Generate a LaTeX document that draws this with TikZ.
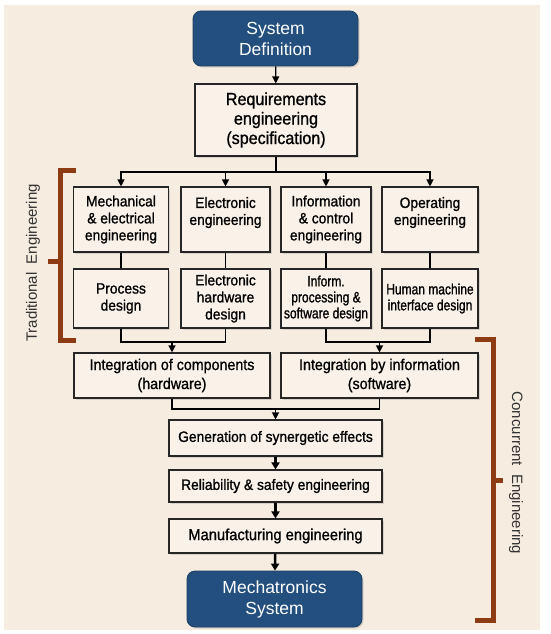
\documentclass[tikz,border=0pt]{standalone}
\usepackage{fontspec}
\setmainfont{Liberation Sans}
\newfontfamily\boxfont[FakeStretch=0.92, FakeBold=1]{Liberation Sans}
\newfontfamily\narrowfont[FakeStretch=0.8, FakeBold=1]{Liberation Sans}
\usepackage{xcolor}
\usepackage{tikz}
\usetikzlibrary{arrows.meta, calc, shadows}

\definecolor{cream}{HTML}{F6ECDF}
\definecolor{boxfill}{HTML}{FAF2E8}
\definecolor{navy}{HTML}{234F7E}
\definecolor{rust}{HTML}{8C3B12}

\begin{document}
\begin{tikzpicture}[x=1pt, y=-1pt,
  box/.style={draw=black!85, line width=1.1pt, fill=boxfill, align=center, inner sep=1pt,
    font=\boxfont\fontsize{15}{17}\selectfont,
    drop shadow={shadow xshift=1.5pt, shadow yshift=-1.5pt, opacity=0.25}},
  narrowbox/.style={box, font=\narrowfont\fontsize{15}{16}\selectfont},
  endbox/.style={draw=navy!80!black, line width=0.8pt, fill=navy, rounded corners=8pt,
    text=white, align=center, font=\fontsize{17.5}{21}\selectfont,
    drop shadow={shadow xshift=1.5pt, shadow yshift=-1.5pt, opacity=0.25}},
  link/.style={line width=1.2pt},
  flow/.style={line width=1.2pt, -{Triangle[length=7pt, width=7pt]}},
  bigflow/.style={line width=2.4pt, -{Triangle[length=7pt, width=8pt]}},
  bracket/.style={rust, line width=5pt},
  side/.style={font=\fontsize{15}{17}\selectfont, text=black!80}]

\useasboundingbox (0,0) rectangle (550,634);
\fill[white] (0,0) rectangle (550,634);
\fill[cream] (4,5) rectangle (540,630);

% start and end of the chain
\node[endbox, minimum width=165pt, minimum height=55pt] (sysdef) at (275.5,38.5) {System\\Definition};
\node[box, minimum width=162pt, minimum height=72pt, font=\boxfont\fontsize{17.5}{19.5}\selectfont] (req) at (276,120) {Requirements\\engineering\\(specification)};

% traditional disciplines
\node[box, minimum width=95pt, minimum height=65pt] (mech) at (121,219.5) {Mechanical\\\& electrical\\engineering};
\node[box, minimum width=89pt, minimum height=65pt] (elec) at (225.5,219.5) {Electronic\\engineering\\\mbox{}};
\node[box, minimum width=90pt, minimum height=65pt] (info) at (326,219.5) {Information\\\& control\\engineering};
\node[box, minimum width=96pt, minimum height=65pt] (oper) at (430,219.5) {Operating\\engineering\\\mbox{}};

\node[box, minimum width=95pt, minimum height=59pt] (proc) at (121,298.5) {Process\\design};
\node[box, minimum width=89pt, minimum height=59pt] (hwd) at (225.5,298.5) {Electronic\\hardware\\design};
\node[narrowbox, minimum width=90pt, minimum height=59pt] (swd) at (326,298.5) {Inform.\\processing \&\\software design};
\node[narrowbox, minimum width=96pt, minimum height=59pt] (hmi) at (430,298.5) {Human machine\\interface design};

% integration and concurrent steps
\node[box, minimum width=196pt, minimum height=45pt, font=\boxfont\fontsize{15.5}{19}\selectfont] (intcomp) at (172,375.5) {Integration of components\\(hardware)};
\node[box, minimum width=197pt, minimum height=45pt, font=\boxfont\fontsize{15.5}{19}\selectfont] (intinfo) at (379.5,375.5) {Integration by information\\(software)};
\node[box, minimum width=213pt, minimum height=36pt] (gen) at (275.5,438) {Generation of synergetic effects};
\node[box, minimum width=213pt, minimum height=32pt] (rel) at (275.5,486) {Reliability \& safety engineering};
\node[box, minimum width=213pt, minimum height=34pt, font=\boxfont\fontsize{16}{19}\selectfont] (manu) at (275.5,536) {Manufacturing engineering};
\node[endbox, minimum width=175pt, minimum height=56pt] (mechsys) at (274.5,599) {Mechatronics\\System};

% connectors
\coordinate (split) at (req.south |- 0,172);
\coordinate (hwjoin) at (intcomp.north |- 0,342);
\coordinate (swjoin) at (intinfo.north |- 0,342);
\coordinate (merge) at (gen.north |- 0,409);

\draw[flow] (sysdef) -- (req);
\draw[link] (req) -- (split);
\foreach \n in {mech,elec,info,oper}
  \draw[flow] (split) -| (\n.north);
\foreach \a/\b in {mech/proc,elec/hwd,info/swd,oper/hmi}
  \draw[link] (\a) -- (\b);

\draw[link] (proc.south) |- (hwjoin) -| (hwd.south);
\draw[link] (swd.south) |- (swjoin) -| (hmi.south);
\draw[flow] (hwjoin) -- (intcomp.north);
\draw[flow] (swjoin) -- (intinfo.north);

\draw[link] (intcomp.south) |- (merge) -| (intinfo.south);
\draw[flow] (merge) -- (gen.north);
\draw[bigflow] (gen) -- (rel);
\draw[bigflow] (rel) -- (manu);
\draw[bigflow] (manu) -- (mechsys);

% brackets
\draw[bracket] (76,170) -- (60,170) -- (60,340) -- (76,340);
\draw[bracket] (60,261) -- (48,261);
\draw[bracket] (475,339) -- (493,339) -- (493,620) -- (475,620);
\draw[bracket] (493,480) -- (503,480);
\node[side, rotate=90] (trad) at (33,263) {Traditional~~Engineering};
\node[side, rotate=-90] (conc) at (516,473) {Concurrent~~Engineering};
\end{tikzpicture}
\end{document}
